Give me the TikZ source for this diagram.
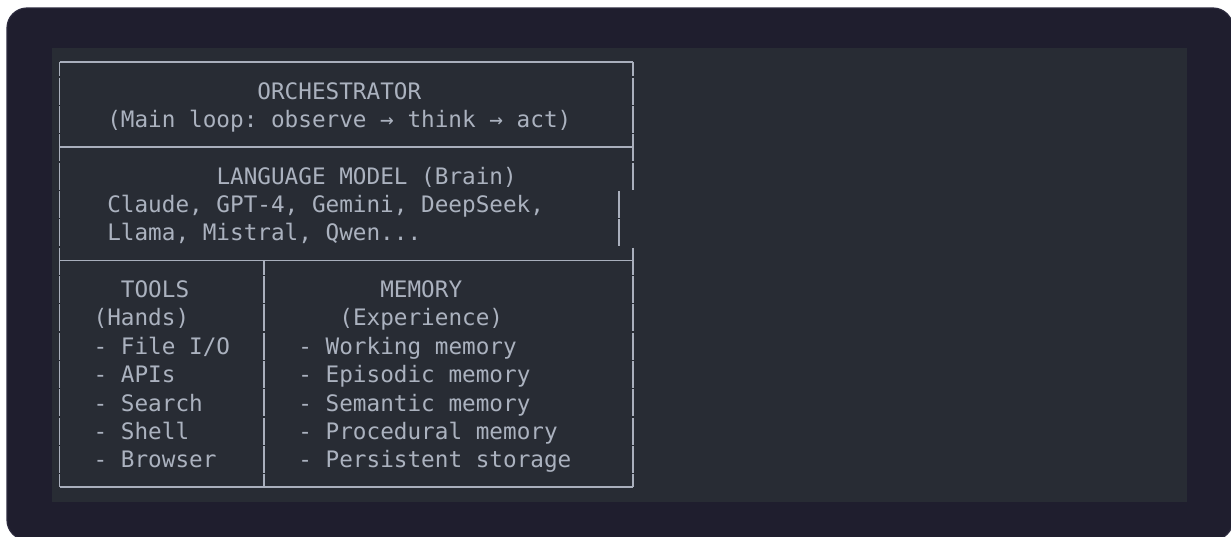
\documentclass[tikz,border=0pt]{standalone}
\usepackage{fontspec}
\newfontfamily\boxmono{DejaVu Sans Mono}

\definecolor{framebg}{HTML}{1F1E2E}
\definecolor{frameedge}{HTML}{2C2B3E}
\definecolor{panelbg}{HTML}{282C34}
\definecolor{ink}{HTML}{ABB2BF}
\definecolor{rulecol}{HTML}{A9AFBC}

\begin{document}
\begin{tikzpicture}[x=1pt,y=-1pt,
  % character grid of the monospaced table
  declare function={cx(\c)=52.7+13.65*\c;   % left edge of column c
                     cc(\c)=59.525+13.65*\c; % centre of column c
                     ry(\r)=62+28.35*\r;     % centre of row r
                     bl(\r)=70.8+28.35*\r;}, % text baseline of row r
  txt/.style={anchor=base west, inner sep=0pt, outer sep=0pt, text=ink,
              font=\boxmono\fontsize{22.67}{28}\selectfont\frenchspacing},
  boxline/.style={draw=rulecol, line width=1.8pt, line cap=butt}]

% page and frame
\useasboundingbox (0,0) rectangle (1231,536);
\fill[white] (0,0) rectangle (1231,536);
\filldraw[fill=framebg, draw=frameedge, line width=1.2pt, rounded corners=20pt]
  (7,8) rectangle (1233,540);
\fill[panelbg] (52,48) rectangle (1187,502);

% horizontal rules
\foreach \r in {0,3,7,15}
  \draw[boxline] ({cc(0)},{ry(\r)}) -- ({cc(42)},{ry(\r)});

% vertical rules, one glyph cell at a time
\foreach \c/\r/\part in {0/0/lo, 42/0/lo,
    0/1/full, 0/2/full, 0/3/full, 0/4/full, 0/5/full, 0/6/full, 0/7/full,
    0/8/full, 0/9/full, 0/10/full, 0/11/full, 0/12/full, 0/13/full, 0/14/full,
    0/15/hi,
    42/1/full, 42/2/full, 42/3/full, 42/4/full, 41/5/full, 41/6/full, 42/7/full,
    42/8/full, 42/9/full, 42/10/full, 42/11/full, 42/12/full, 42/13/full, 42/14/full,
    42/15/hi,
    15/7/lo, 15/8/full, 15/9/full, 15/10/full, 15/11/full, 15/12/full, 15/13/full,
    15/14/full, 15/15/hi}
{
  \ifnum\pdfstrcmp{\part}{lo}=0
    \draw[boxline] ({cc(\c)},{ry(\r)}) -- ({cc(\c)},{ry(\r)+14.175});
  \else\ifnum\pdfstrcmp{\part}{hi}=0
    \draw[boxline] ({cc(\c)},{ry(\r)-12.8}) -- ({cc(\c)},{ry(\r)});
  \else
    \draw[boxline] ({cc(\c)},{ry(\r)-12.8}) -- ({cc(\c)},{ry(\r)+14.175});
  \fi\fi
}

% orchestrator
\node[txt] (orch)  at ({cx(15)},{bl(1)}) {ORCHESTRATOR};
\node[txt] (loop)  at ({cx(4)},{bl(2)})  {(Main loop: observe → think → act)};

% language model
\node[txt] (lm)    at ({cx(12)},{bl(4)}) {LANGUAGE MODEL (Brain)};
\node[txt] (lmA)   at ({cx(4)},{bl(5)})  {Claude, GPT-4, Gemini, DeepSeek,};
\node[txt] (lmB)   at ({cx(4)},{bl(6)})  {Llama, Mistral, Qwen...};

% tools
\node[txt] (tools) at ({cx(5)},{bl(8)})  {TOOLS};
\node[txt] (hands) at ({cx(3)},{bl(9)})  {(Hands)};
\node[txt] (tA)    at ({cx(3)},{bl(10)}) {- File I/O};
\node[txt] (tB)    at ({cx(3)},{bl(11)}) {- APIs};
\node[txt] (tC)    at ({cx(3)},{bl(12)}) {- Search};
\node[txt] (tD)    at ({cx(3)},{bl(13)}) {- Shell};
\node[txt] (tE)    at ({cx(3)},{bl(14)}) {- Browser};

% memory
\node[txt] (mem)   at ({cx(24)},{bl(8)})  {MEMORY};
\node[txt] (exper) at ({cx(21)},{bl(9)})  {(Experience)};
\node[txt] (mA)    at ({cx(18)},{bl(10)}) {- Working memory};
\node[txt] (mB)    at ({cx(18)},{bl(11)}) {- Episodic memory};
\node[txt] (mC)    at ({cx(18)},{bl(12)}) {- Semantic memory};
\node[txt] (mD)    at ({cx(18)},{bl(13)}) {- Procedural memory};
\node[txt] (mE)    at ({cx(18)},{bl(14)}) {- Persistent storage};
\end{tikzpicture}
\end{document}
